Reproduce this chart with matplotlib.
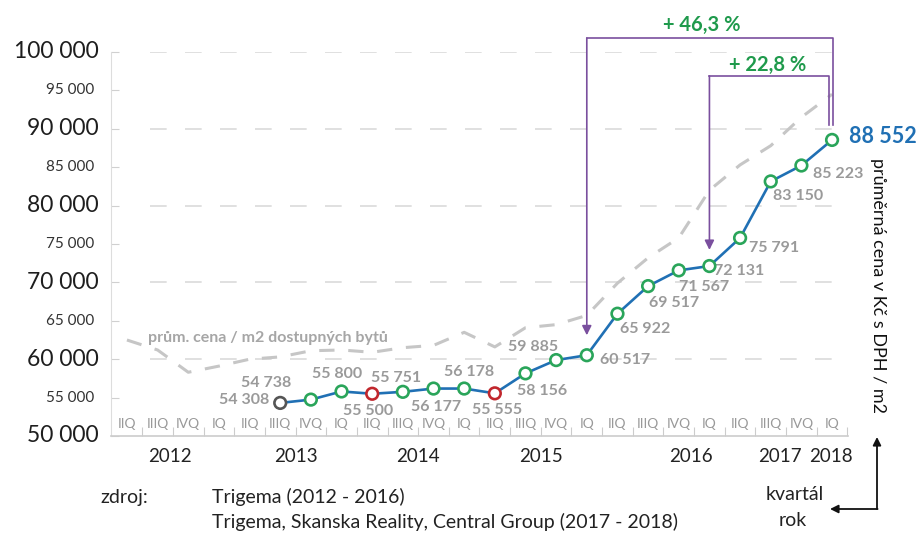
import matplotlib.pyplot as plt
import numpy as np

plt.rcParams['font.family'] = ['Lato', 'DejaVu Sans']

# quarter axis (2012 IIQ .. 2018 IQ)
quarters = ['IIQ', 'IIIQ', 'IVQ'] + ['IQ', 'IIQ', 'IIIQ', 'IVQ'] * 5 + ['IQ']
years = ['2012', '2013', '2014', '2015', '2016', '2017', '2018']
year_pos = [1.4, 5.5, 9.5, 13.5, 18.4, 21.3, 22.95]

# average price per m2 (starts at 2013 IIIQ = index 5)
price_start = 5
price = [54308, 54738, 55800, 55500, 55751, 56177, 56178, 55555, 58156, 59885,
         60517, 65922, 69517, 71567, 72131, 75791, 83150, 85223, 88552]
price_kind = ['first', 'up', 'up', 'down', 'up', 'up', 'up', 'down', 'up', 'up',
              'up', 'up', 'up', 'up', 'up', 'up', 'up', 'up', 'up']

# average price of affordable flats (grey dashed)
affordable = [62500, 61200, 58300, 59100, 60000, 60300, 61100, 61200, 60900, 61500,
              61800, 63500, 61600, 64100, 64500, 65700, 69900, 73200, 75800, 82000,
              85300, 87800, 91500, 94500]

# label offsets in pixels (dx, dy)
offsets = [(-36, 3), (-45, 17), (-4, 17), (-4, -17), (-7, 14), (3, -18), (5, 17),
           (2, -17), (17, -18), (-23, 13), (38, -5), (28, -15), (26, -17), (25, -17),
           (30, -5), (34, -10), (27, -15), (37, -9), (51, 3)]

purple = '#7a4f9e'
green = '#1f9a4c'
blue = '#2070b4'
kind_col = {'first': '#555555', 'up': '#2aa55a', 'down': '#c1272d'}

fig = plt.figure(figsize=(9.2, 5.33), dpi=100)
ax = fig.add_axes([111 / 920, 97 / 533, 737 / 920, 384 / 533])
ax.set_xlim(-0.52, 23.52)
ax.set_ylim(50000, 100000)

for s in ['top', 'right']:
    ax.spines[s].set_visible(False)
ax.spines['left'].set_color('#dddddd')
ax.spines['bottom'].set_color('#cccccc')
ax.spines['bottom'].set_linewidth(1.2)

# grid
ax.hlines(np.arange(60000, 100001, 10000), 0.75, 23.2, colors='#dadada', lw=1.2,
          linestyles=(0, (10, 11)), zorder=1)

# y ticks + labels
ax.set_yticks(np.arange(50000, 100001, 5000))
ax.set_yticklabels([])
ax.tick_params(axis='y', direction='in', length=6, color='#d0d0d0')
for v in range(50000, 100001, 5000):
    lab = f"{v:,}".replace(',', ' ')
    if v % 10000 == 0:
        ax.annotate(lab, xy=(0, v), xycoords=('axes fraction', 'data'),
                    xytext=(-12, 0), textcoords='offset pixels', ha='right',
                    va='center', fontsize=16.5, color='#1e1e1e', annotation_clip=False)
    else:
        ax.annotate(lab, xy=(0, v), xycoords=('axes fraction', 'data'),
                    xytext=(-17, 0), textcoords='offset pixels', ha='right',
                    va='center', fontsize=11, color='#333333', annotation_clip=False)

# x: quarter separators
ax.set_xticks(np.arange(0.5, 24, 1))
ax.set_xticklabels([])
ax.tick_params(axis='x', direction='in', length=6.5, color='#cccccc')
for i, q in enumerate(quarters):
    ax.text(i, 51600, q, ha='center', va='center', fontsize=10, color='#999999')
for yp, y in zip(year_pos, years):
    ax.text(yp, 47300, y, ha='center', va='center', fontsize=13.5, color='#222222',
            clip_on=False)

# affordable flats line
xa = np.arange(len(affordable))
ax.plot(xa, affordable, color='#c6c6c6', lw=2.2, dashes=(5, 4.5), zorder=2)
ax.text(0.7, 62700, 'prům. cena / m2 dostupných bytů', fontsize=11.5,
        fontweight='bold', color='#a6a6a6', va='center')

# main series
xp = np.arange(price_start, price_start + len(price))
ax.plot(xp, price, color=blue, lw=1.9, zorder=3)
ax.scatter(xp, price, s=70, facecolor='white',
           edgecolors=[kind_col[k] for k in price_kind], linewidths=1.9, zorder=4)

for x, v, (dx, dy) in zip(xp, price, offsets):
    lab = f"{v:,}".replace(',', ' ')
    if x == xp[-1]:
        ax.annotate(lab, xy=(x, v), xytext=(dx, dy), textcoords='offset pixels',
                    ha='center', va='center', fontsize=15.5, fontweight='bold',
                    color=blue, annotation_clip=False)
    else:
        ax.annotate(lab, xy=(x, v), xytext=(dx, dy), textcoords='offset pixels',
                    ha='center', va='center', fontsize=11.5, fontweight='bold',
                    color='#9a9a9a', annotation_clip=False)

# growth brackets
last = price[-1]
for idx, top, right, tip_off, txt_x, txt_y in [(15, 101820, 23.03, 2600, 18.76, 103500),
                                               (19, 96880, 22.9, 2100, 20.9, 98300)]:
    base = price[idx - price_start]
    ax.plot([right, right, idx], [90500, top, top], color=purple, lw=1.2,
            clip_on=False, zorder=5)
    ax.annotate('', xy=(idx, base + tip_off), xytext=(idx, top),
                arrowprops=dict(arrowstyle='-|>', color=purple, lw=1.2,
                                mutation_scale=14, shrinkA=0, shrinkB=0),
                annotation_clip=False)
    pct = (last / base - 1) * 100
    ax.text(txt_x, txt_y, '+ ' + f"{pct:.1f}".replace('.', ',') + ' %', ha='center',
            va='center', fontsize=14.5, fontweight='bold', color=green, clip_on=False)

# right axis label
fig.text(878 / 920, 1 - 286 / 533, 'průměrná cena v Kč s DPH / m2', rotation=270,
         ha='center', va='center', fontsize=13, color='#111111')

# legend-like arrows
ax.annotate('', xy=(877, 533 - 437), xytext=(877, 533 - 509), xycoords='figure pixels',
            textcoords='figure pixels',
            arrowprops=dict(arrowstyle='-|>', color='#111111', lw=1.3,
                            mutation_scale=12, shrinkA=0, shrinkB=0))
ax.annotate('', xy=(830, 533 - 509), xytext=(877.6, 533 - 509), xycoords='figure pixels',
            textcoords='figure pixels',
            arrowprops=dict(arrowstyle='-|>', color='#111111', lw=1.3,
                            mutation_scale=12, shrinkA=0, shrinkB=0))
fig.text(795 / 920, 1 - 495 / 533, 'kvartál', ha='center', va='center', fontsize=14,
         color='#222222')
fig.text(793 / 920, 1 - 520 / 533, 'rok', ha='center', va='center', fontsize=14,
         color='#222222')

# source
fig.text(100 / 920, 1 - 497 / 533, 'zdroj:', ha='left', va='center', fontsize=14,
         color='#222222')
fig.text(212 / 920, 1 - 497 / 533, 'Trigema (2012 - 2016)', ha='left', va='center',
         fontsize=14, color='#222222')
fig.text(212 / 920, 1 - 522 / 533, 'Trigema, Skanska Reality, Central Group (2017 - 2018)',
         ha='left', va='center', fontsize=14, color='#222222')

fig.savefig('out.png', dpi=100)
